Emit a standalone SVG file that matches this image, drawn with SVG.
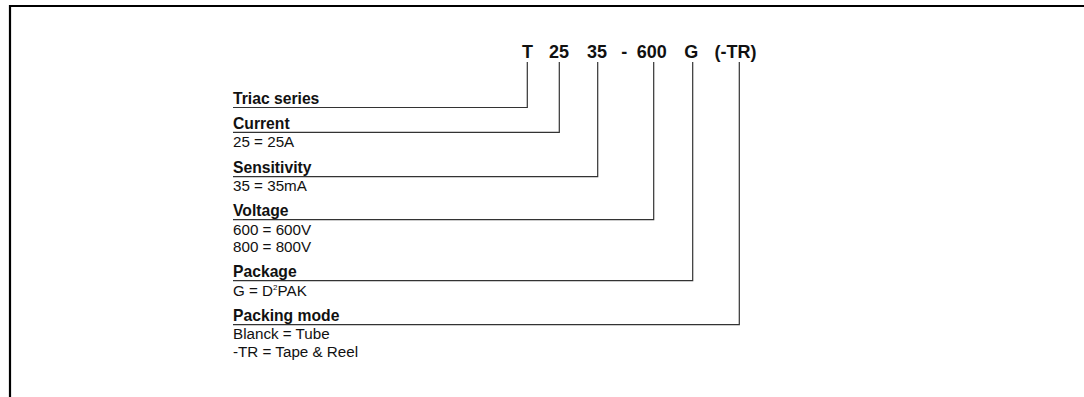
<svg xmlns="http://www.w3.org/2000/svg" width="1084" height="397" viewBox="0 0 1084 397">
<style>
.frame{fill:none;stroke:#000;stroke-width:2.2}
.conn{fill:none;stroke:#333;stroke-width:1.2}
.code{font-family:"Liberation Sans",Arial,sans-serif;font-weight:bold;font-size:18px;fill:#111;text-anchor:middle}
.hd{font-family:"Liberation Sans",Arial,sans-serif;font-weight:bold;font-size:15.7px;fill:#111}
.tx{font-family:"Liberation Sans",Arial,sans-serif;font-size:15.2px;fill:#111}
</style>
<rect width="1084" height="397" fill="#fff"/>
<path class="frame" d="M10,397 V6 H1084"/>
<g id="code">
<text class="code" x="527.5" y="58">T</text>
<text class="code" x="559" y="58">25</text>
<text class="code" x="597" y="58">35</text>
<text class="code" x="624.3" y="58">-</text>
<text class="code" x="651.7" y="58">600</text>
<text class="code" x="691.3" y="58">G</text>
<text class="code" x="735.5" y="58">(-TR)</text>
</g>
<g id="connectors">
<path class="conn" d="M233,107.5 H527.3 V62"/>
<path class="conn" d="M233,132.3 H559.3 V62"/>
<path class="conn" d="M233,176.7 H597.7 V62"/>
<path class="conn" d="M233,219.7 H653.7 V62"/>
<path class="conn" d="M233,280.7 H692.7 V62"/>
<path class="conn" d="M233,324.7 H739.3 V62"/>
</g>
<g id="triac">
<text class="hd" x="233" y="104">Triac series</text>
</g>
<g id="current">
<text class="hd" x="233" y="128.5">Current</text>
<text class="tx" x="233" y="146.7">25 = 25A</text>
</g>
<g id="sensitivity">
<text class="hd" x="233" y="172.7">Sensitivity</text>
<text class="tx" x="233" y="191">35 = 35mA</text>
</g>
<g id="voltage">
<text class="hd" x="233" y="215.5">Voltage</text>
<text class="tx" x="233" y="235">600 = 600V</text>
<text class="tx" x="233" y="252.3">800 = 800V</text>
</g>
<g id="package">
<text class="hd" x="233" y="276.7">Package</text>
<text class="tx" x="233" y="295.5">G = D<tspan font-size="8" dy="-6">2</tspan><tspan dy="6">PAK</tspan></text>
</g>
<g id="packing">
<text class="hd" x="233" y="320.5">Packing mode</text>
<text class="tx" x="233" y="339">Blanck = Tube</text>
<text class="tx" x="233" y="356.7">-TR = Tape &amp; Reel</text>
</g>
</svg>
